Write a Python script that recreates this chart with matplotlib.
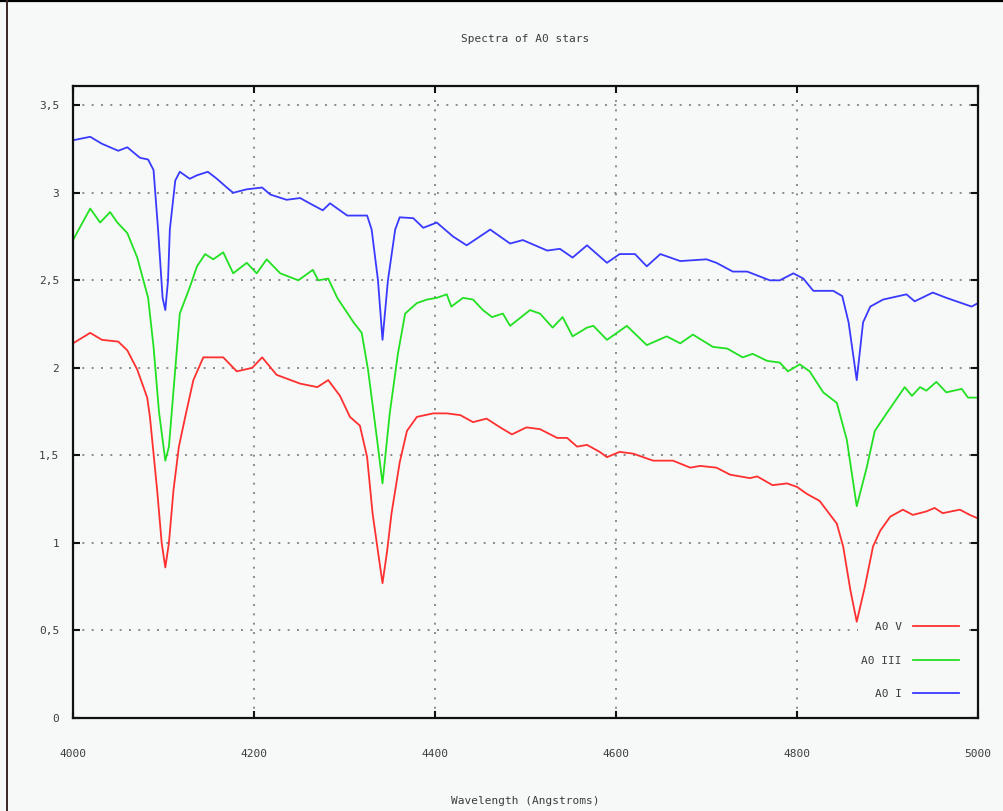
import matplotlib
matplotlib.use("Agg")
import matplotlib.pyplot as plt
from matplotlib.lines import Line2D
from matplotlib.ticker import FuncFormatter

# A0 V (dwarf)
wl_v = [4000, 4019, 4032, 4050, 4060, 4071, 4082, 4085, 4093, 4098, 4102, 4106, 4111, 4117,
        4124, 4133, 4144, 4166, 4181, 4198, 4209, 4225, 4251, 4270, 4282, 4295, 4306, 4317,
        4325, 4331, 4337, 4342, 4347, 4352, 4361, 4369, 4380, 4398, 4413, 4428, 4442, 4457,
        4472, 4485, 4501, 4516, 4535, 4546, 4557, 4568, 4582, 4590, 4604, 4619, 4641, 4663,
        4682, 4693, 4711, 4726, 4748, 4756, 4773, 4789, 4800, 4811, 4825, 4844, 4851, 4859,
        4866, 4875, 4884, 4892, 4903, 4917, 4928, 4943, 4952, 4961, 4980, 4991, 5000]
flux_v = [2.14, 2.20, 2.16, 2.15, 2.10, 1.99, 1.83, 1.72, 1.30, 1.00, 0.86, 1.00, 1.30, 1.55,
          1.72, 1.93, 2.06, 2.06, 1.98, 2.00, 2.06, 1.96, 1.91, 1.89, 1.93, 1.84, 1.72, 1.67,
          1.49, 1.17, 0.95, 0.77, 0.95, 1.17, 1.46, 1.64, 1.72, 1.74, 1.74, 1.73, 1.69, 1.71,
          1.66, 1.62, 1.66, 1.65, 1.60, 1.60, 1.55, 1.56, 1.52, 1.49, 1.52, 1.51, 1.47, 1.47,
          1.43, 1.44, 1.43, 1.39, 1.37, 1.38, 1.33, 1.34, 1.32, 1.28, 1.24, 1.11, 0.98, 0.73,
          0.55, 0.75, 0.98, 1.07, 1.15, 1.19, 1.16, 1.18, 1.20, 1.17, 1.19, 1.16, 1.14]

# A0 III (giant)
wl_iii = [4000, 4019, 4030, 4041, 4049, 4060, 4071, 4083, 4089, 4095, 4102, 4106, 4109, 4118,
          4129, 4137, 4146, 4155, 4166, 4177, 4192, 4203, 4214, 4229, 4249, 4265, 4271, 4282,
          4292, 4310, 4319, 4326, 4336, 4342, 4350, 4359, 4367, 4380, 4391, 4402, 4413, 4418,
          4431, 4442, 4453, 4463, 4475, 4483, 4505, 4516, 4530, 4541, 4552, 4568, 4575, 4590,
          4612, 4634, 4656, 4671, 4685, 4707, 4723, 4740, 4751, 4767, 4781, 4790, 4803, 4814,
          4829, 4844, 4855, 4866, 4877, 4886, 4899, 4919, 4927, 4936, 4943, 4954, 4965, 4982,
          4989, 5000]
flux_iii = [2.73, 2.91, 2.83, 2.89, 2.83, 2.77, 2.63, 2.40, 2.12, 1.75, 1.47, 1.55, 1.74, 2.31,
            2.46, 2.58, 2.65, 2.62, 2.66, 2.54, 2.60, 2.54, 2.62, 2.54, 2.50, 2.56, 2.50, 2.51,
            2.40, 2.26, 2.20, 1.99, 1.59, 1.34, 1.74, 2.08, 2.31, 2.37, 2.39, 2.40, 2.42, 2.35,
            2.40, 2.39, 2.33, 2.29, 2.31, 2.24, 2.33, 2.31, 2.23, 2.29, 2.18, 2.23, 2.24, 2.16,
            2.24, 2.13, 2.18, 2.14, 2.19, 2.12, 2.11, 2.06, 2.08, 2.04, 2.03, 1.98, 2.02, 1.98,
            1.86, 1.80, 1.59, 1.21, 1.43, 1.64, 1.74, 1.89, 1.84, 1.89, 1.87, 1.92, 1.86, 1.88,
            1.83, 1.83]

# A0 I (supergiant)
wl_i = [4000, 4019, 4032, 4050, 4060, 4074, 4083, 4089, 4094, 4099, 4102, 4105, 4107, 4113,
        4118, 4129, 4137, 4149, 4159, 4170, 4177, 4192, 4209, 4218, 4236, 4251, 4265, 4276,
        4284, 4303, 4325, 4330, 4337, 4342, 4348, 4356, 4361, 4376, 4387, 4402, 4420, 4435,
        4461, 4483, 4497, 4524, 4538, 4552, 4568, 4590, 4604, 4621, 4634, 4649, 4671, 4700,
        4711, 4729, 4745, 4770, 4781, 4796, 4807, 4818, 4840, 4850, 4857, 4866, 4873, 4881,
        4895, 4921, 4930, 4950, 4965, 4993, 5000]
flux_i = [3.30, 3.32, 3.28, 3.24, 3.26, 3.20, 3.19, 3.13, 2.79, 2.40, 2.33, 2.50, 2.79, 3.07,
          3.12, 3.08, 3.10, 3.12, 3.08, 3.03, 3.00, 3.02, 3.03, 2.99, 2.96, 2.97, 2.93, 2.90,
          2.94, 2.87, 2.87, 2.79, 2.50, 2.16, 2.50, 2.79, 2.86, 2.855, 2.80, 2.83, 2.75, 2.70,
          2.79, 2.71, 2.73, 2.67, 2.68, 2.63, 2.70, 2.60, 2.65, 2.65, 2.58, 2.65, 2.61, 2.62,
          2.60, 2.55, 2.55, 2.50, 2.50, 2.54, 2.51, 2.44, 2.44, 2.41, 2.26, 1.93, 2.26, 2.35,
          2.39, 2.42, 2.38, 2.43, 2.40, 2.35, 2.37]

bg = "#f6f9f7"
txt = "#3c3c3c"
fnt = "DejaVu Sans Mono"

fig = plt.figure(figsize=(10.04, 8.11), dpi=100, facecolor=bg)
ax = fig.add_axes([73 / 1004, 1 - 718 / 811, 905 / 1004, (718 - 86) / 811])
ax.set_facecolor(bg)

ax.plot(wl_v, flux_v, color="#ff3030", lw=1.3, label="A0 V")
ax.plot(wl_iii, flux_iii, color="#22e022", lw=1.3, label="A0 III")
ax.plot(wl_i, flux_i, color="#3a3aff", lw=1.3, label="A0 I")

ax.set_xlim(4000, 5000)
ax.set_ylim(0, 3.61)
ax.set_xticks([4000, 4200, 4400, 4600, 4800, 5000])
ax.set_yticks([0, 0.5, 1, 1.5, 2, 2.5, 3, 3.5])
ax.yaxis.set_major_formatter(FuncFormatter(lambda v, p: ("%g" % v).replace(".", ",")))

ax.grid(True, color="#8a8a8a", linestyle=(0, (1, 3.8)), linewidth=1.4)
for s in ax.spines.values():
    s.set_linewidth(1.6)
    s.set_color("#111111")

ax.tick_params(direction="in", length=5, width=1.5, top=True, right=True,
               labelsize=8, labelcolor=txt, color="#111111")
ax.tick_params(axis="x", pad=22)
ax.tick_params(axis="y", pad=10)
for lab in ax.get_xticklabels() + ax.get_yticklabels():
    lab.set_family(fnt)

ax.set_title("Spectra of A0 stars", fontsize=8, family=fnt, color=txt, pad=32)
ax.set_xlabel("Wavelength (Angstroms)", fontsize=8, family=fnt, color=txt, labelpad=27)

# key box hides the grid but sits under the curves
leg = ax.legend(loc="lower right", bbox_to_anchor=(0.983, 0.025), frameon=True,
                markerfirst=False, handlelength=4.2, handletextpad=1.0,
                labelspacing=2.1, borderaxespad=0, borderpad=0.3, fancybox=False,
                facecolor=bg, edgecolor="none", framealpha=1,
                prop={"family": fnt, "size": 8})
leg.set_zorder(1.8)
for t in leg.get_texts():
    t.set_color(txt)

# outer frame lines along the top and left edges
fig.add_artist(Line2D([0, 1], [0.999, 0.999], transform=fig.transFigure,
                      color="#000000", lw=1.6))
fig.add_artist(Line2D([7 / 1004, 7 / 1004], [0, 1], transform=fig.transFigure,
                      color="#3b2424", lw=1.4))

fig.savefig("out.png", dpi=100, facecolor=bg)
